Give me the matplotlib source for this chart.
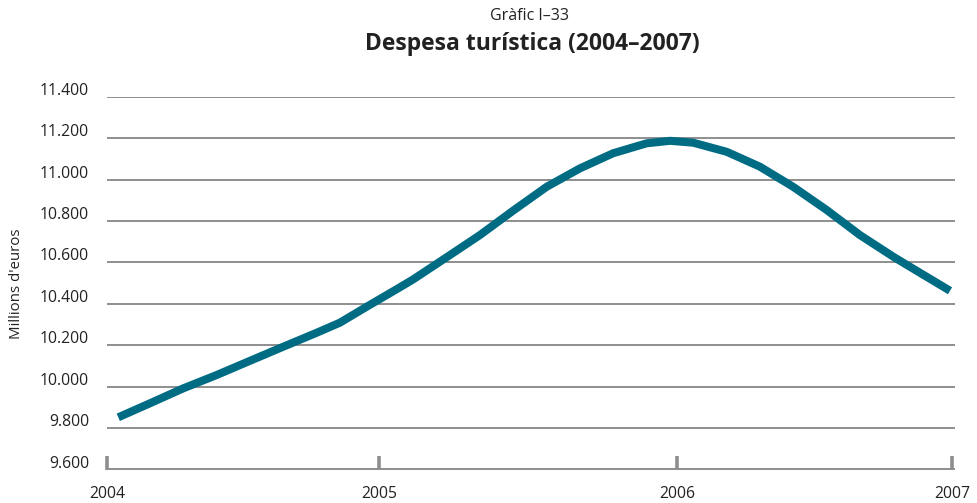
import matplotlib
matplotlib.use("Agg")
import matplotlib.pyplot as plt
from matplotlib.transforms import ScaledTranslation

# Data (fractional years, millions of euros)
years = [2004.040, 2004.153, 2004.271, 2004.389, 2004.508, 2004.626, 2004.744,
         2004.827, 2004.922, 2005.034, 2005.087, 2005.206, 2005.324, 2005.442,
         2005.561, 2005.679, 2005.797, 2005.916, 2005.999, 2006.081, 2006.200,
         2006.318, 2006.436, 2006.555, 2006.673, 2006.792, 2006.886, 2006.993]
spend = [9852, 9920, 9992, 10056, 10125, 10193, 10260,
         10309, 10386, 10475, 10518, 10625, 10732, 10850,
         10965, 11054, 11127, 11175, 11187, 11178, 11134,
         11062, 10965, 10853, 10732, 10627, 10550, 10463]

year_labels = ["2004", "2005", "2006", "2007"]
year_tick_pos = [2004.0, 2004.966, 2006.024, 2007.0]
y_ticks = [9600, 9800, 10000, 10200, 10400, 10600, 10800, 11000, 11200, 11400]
y_tick_labels = ["9.600", "9.800", "10.000", "10.200", "10.400", "10.600",
                 "10.800", "11.000", "11.200", "11.400"]

plt.rcParams['font.family'] = ['Open Sans', 'DejaVu Sans']
W, H = 977, 503
fig = plt.figure(figsize=(W / 100, H / 100), dpi=100)
left, right, top, bottom = 107, 955, 96.7, 469.5
ax = fig.add_axes([left / W, 1 - bottom / H, (right - left) / W, (bottom - top) / H])

grid_c = "#8e8e8e"
text_c = "#222222"
line_c = "#006c84"

ax.set_xlim(2004.0, 2004.0 + (right - left) / ((952 - 107) / 3))
ax.set_ylim(9600, 11400)
for v in y_ticks:
    ax.axhline(v, color=grid_c, lw=1.4, zorder=1)

ax.plot(years, spend, color=line_c, lw=5.8, solid_capstyle='butt',
        solid_joinstyle='round', zorder=3)

for s in ax.spines.values():
    s.set_visible(False)

ax.set_yticks(y_ticks)
ax.set_yticklabels(y_tick_labels)
ax.tick_params(axis='y', length=0, pad=13, labelsize=11.3, labelcolor=text_c)
offset = ScaledTranslation(0, 8 / 100, fig.dpi_scale_trans)
for lab in ax.get_yticklabels():
    lab.set_transform(lab.get_transform() + offset)

ax.set_xticks(year_tick_pos)
ax.set_xticklabels(year_labels)
ax.tick_params(axis='x', direction='in', length=10, width=2.6, color=grid_c,
               pad=12, labelsize=11.3, labelcolor=text_c)

fig.text(17 / W, 1 - 284 / H, "Millions d'euros", rotation=90, ha='center',
         va='center', fontsize=10.8, color=text_c)
fig.text(532 / W, 1 - 44 / H, "Despesa turística (2004–2007)", ha='center',
         va='center', fontsize=16.5, fontweight='bold', color=text_c)
fig.text(530 / W, 1 - 16 / H, "Gràfic I–33", ha='center', va='center',
         fontsize=11.5, color=text_c)

fig.savefig("out.png", dpi=100)
